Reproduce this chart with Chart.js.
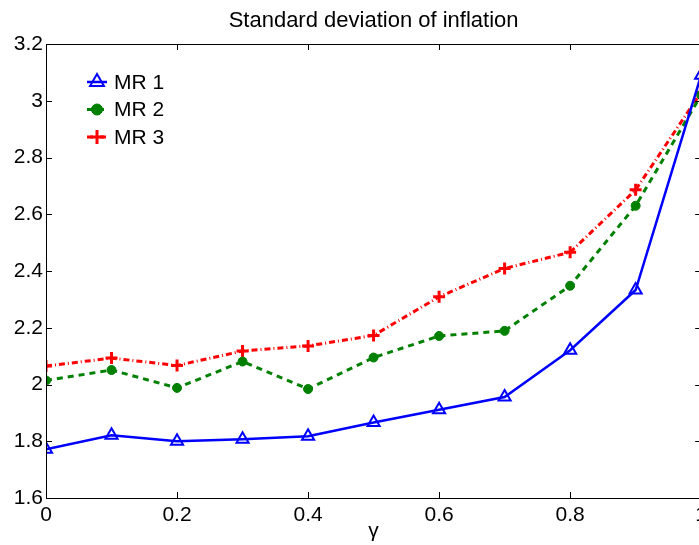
<!DOCTYPE html>
<html>
<head>
<meta charset="utf-8">
<title>Standard deviation of inflation</title>
<script src="https://cdn.jsdelivr.net/npm/chart.js@4/dist/chart.umd.min.js"></script>
<style>
  html, body { margin: 0; padding: 0; background: #fff; overflow: hidden; }
  #wrap { width: 712px; height: 545px; }
  canvas { display: block; }
</style>
</head>
<body>
<div id="wrap"><canvas id="c" width="712" height="545"></canvas></div>
<script>
// gamma grid and the three monetary-rule series
const gamma = [0, 0.1, 0.2, 0.3, 0.4, 0.5, 0.6, 0.7, 0.8, 0.9, 1.0];
const mr1 = [1.772, 1.821, 1.800, 1.807, 1.818, 1.866, 1.911, 1.956, 2.121, 2.333, 3.09];
const mr2 = [2.014, 2.051, 1.988, 2.081, 1.984, 2.095, 2.171, 2.189, 2.348, 2.630, 3.02];
const mr3 = [2.065, 2.093, 2.067, 2.118, 2.136, 2.173, 2.309, 2.409, 2.466, 2.686, 3.03];

const seriesNames = ['MR 1', 'MR 2', 'MR 3'];
const xTicks = [0, 0.2, 0.4, 0.6, 0.8, 1];
const yTicks = [1.6, 1.8, 2, 2.2, 2.4, 2.6, 2.8, 3, 3.2];
const titleText = 'Standard deviation of inflation';
const xLabel = 'γ';

const FONT = '"Liberation Sans", Arial, Helvetica, sans-serif';
const FS = 21;

const pts = ys => gamma.map((g, i) => ({ x: g, y: ys[i] }));

const datasets = [
  {
    label: seriesNames[0], data: pts(mr1),
    borderColor: '#0000ff', borderWidth: 2.5, borderDash: [],
    pointStyle: 'triangle', pointRadius: 7, pointBorderWidth: 2,
    pointBorderColor: '#0000ff', pointBackgroundColor: 'rgba(0,0,0,0)'
  },
  {
    label: seriesNames[1], data: pts(mr2),
    borderColor: '#008000', borderWidth: 3, borderDash: [6, 5],
    pointStyle: 'circle', pointRadius: 4.5, pointBorderWidth: 1,
    pointBorderColor: '#008000', pointBackgroundColor: '#008000'
  },
  {
    label: seriesNames[2], data: pts(mr3),
    borderColor: '#ff0000', borderWidth: 3, borderDash: [6, 3, 1, 3],
    pointStyle: 'cross', pointRadius: 6, pointBorderWidth: 3,
    pointBorderColor: '#ff0000', pointBackgroundColor: '#ff0000'
  }
];

// Box around the plot, inward tick marks, title and in-plot legend
const boxPlugin = {
  id: 'box',
  afterDraw(chart) {
    const ctx = chart.ctx;
    const { left, right, top, bottom } = chart.chartArea;
    const xs = chart.scales.x, ys = chart.scales.y;
    const tl = 6;
    ctx.save();
    ctx.strokeStyle = '#000';
    ctx.lineWidth = 1;
    ctx.beginPath();
    ctx.rect(Math.round(left) + 0.5, Math.round(top) + 0.5,
             Math.round(right - left), Math.round(bottom - top));
    xTicks.forEach(v => {
      const px = Math.round(xs.getPixelForValue(v)) + 0.5;
      ctx.moveTo(px, bottom); ctx.lineTo(px, bottom - tl);
      ctx.moveTo(px, top); ctx.lineTo(px, top + tl);
    });
    yTicks.forEach(v => {
      const py = Math.round(ys.getPixelForValue(v)) + 0.5;
      ctx.moveTo(left, py); ctx.lineTo(left + tl, py);
      ctx.moveTo(right, py); ctx.lineTo(right - tl, py);
    });
    ctx.stroke();

    // title centred over the plot area
    ctx.fillStyle = '#000';
    ctx.font = '22px ' + FONT;
    ctx.textAlign = 'center';
    ctx.textBaseline = 'alphabetic';
    ctx.fillText(titleText, (left + right) / 2, 27);

    // legend
    const rowY = [82, 109.5, 137];
    const x0 = 87, x1 = 107;
    chart.data.datasets.forEach((ds, i) => {
      const y = rowY[i];
      ctx.save();
      ctx.strokeStyle = ds.borderColor;
      ctx.lineWidth = ds.borderWidth;
      ctx.setLineDash(ds.borderDash || []);
      ctx.beginPath();
      ctx.moveTo(x0, y); ctx.lineTo(x1, y);
      ctx.stroke();
      ctx.setLineDash([]);
      ctx.fillStyle = ds.pointBackgroundColor;
      ctx.strokeStyle = ds.pointBorderColor;
      ctx.lineWidth = ds.pointBorderWidth;
      Chart.helpers.drawPoint(ctx, {
        pointStyle: ds.pointStyle, radius: ds.pointRadius + 1,
        borderWidth: ds.pointBorderWidth, rotation: 0
      }, (x0 + x1) / 2, y);
      ctx.restore();
      ctx.fillStyle = '#000';
      ctx.font = FS + 'px ' + FONT;
      ctx.textAlign = 'left';
      ctx.textBaseline = 'middle';
      ctx.fillText(ds.label, 114, y + 1);
    });
    ctx.restore();
  }
};

new Chart(document.getElementById('c'), {
  type: 'line',
  data: { datasets },
  options: {
    responsive: false,
    devicePixelRatio: 1,
    animation: false,
    layout: { padding: { top: 44, right: 9, left: 0, bottom: 0 } },
    plugins: { legend: { display: false }, title: { display: false }, tooltip: { enabled: false } },
    elements: { line: { tension: 0, fill: false } },
    scales: {
      x: {
        type: 'linear', min: 0, max: 1,
        afterBuildTicks: s => { s.ticks = xTicks.map(v => ({ value: v })); },
        afterFit: s => { s.height = 47; },
        grid: { display: false, drawTicks: false },
        border: { display: false },
        ticks: { color: '#000', font: { family: FONT, size: FS }, padding: 5, maxRotation: 0,
                 callback: v => String(v) },
        title: { display: true, text: xLabel, color: '#000',
                 font: { family: FONT, size: FS }, padding: { top: 0, bottom: 1 } }
      },
      y: {
        type: 'linear', min: 1.6, max: 3.2,
        afterBuildTicks: s => { s.ticks = yTicks.map(v => ({ value: v })); },
        afterFit: s => { s.width = 46; },
        grid: { display: false, drawTicks: false },
        border: { display: false },
        ticks: { color: '#000', font: { family: FONT, size: FS }, padding: 3,
                 callback: v => String(v) }
      }
    }
  },
  plugins: [boxPlugin]
});
</script>
</body>
</html>
